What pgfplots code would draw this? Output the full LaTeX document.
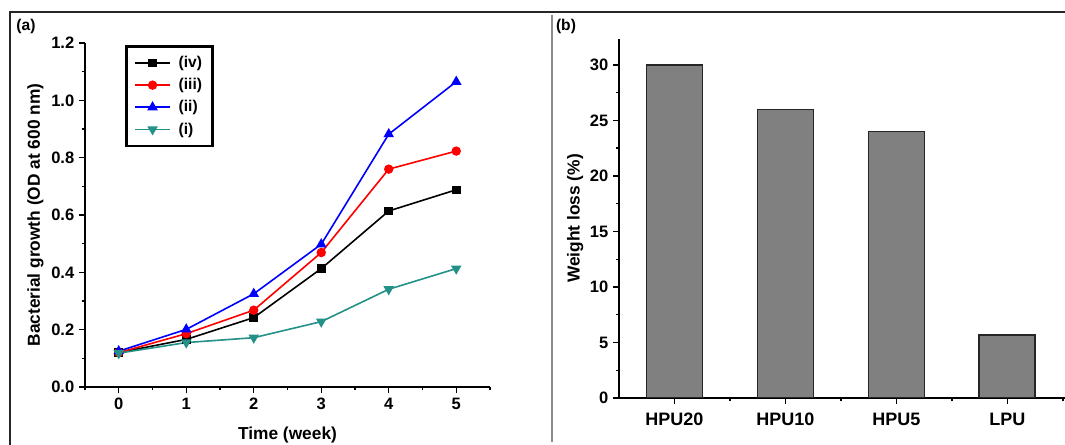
\documentclass[border=0pt]{standalone}
\usepackage{fontspec}
\setmainfont{Liberation Sans}
\usepackage{pgfplots}
\pgfplotsset{compat=1.18}
\definecolor{tealc}{RGB}{35,145,135}
\definecolor{bargray}{RGB}{128,128,128}

\pgfplotsset{
  origin/.style={
    scale only axis,
    axis x line*=bottom, axis y line*=left,
    axis line style={line width=1.1pt},
    tick align=outside,
    major tick length=4.5pt, minor tick length=2.5pt,
    every tick/.style={line width=1.1pt, black},
    /pgf/number format/assume math mode=true,
    tick label style={font=\fontsize{12.4}{14}\selectfont\bfseries},
    label style={font=\fontsize{13}{15}\selectfont\bfseries},
  },
}

\begin{document}
\begin{tikzpicture}
% 1 px of the reference = 0.75pt
\path[use as bounding box] (0,0) rectangle (798.75pt,-333.75pt);
\draw[line width=1.5pt, black!85] (7.5pt,-333.75pt) -- (7.5pt,-9pt) -- (798.75pt,-9pt);
\draw[line width=1.4pt, black!45] (414pt,-11pt) -- (414pt,-331.5pt);

\node[font=\fontsize{11.7}{13}\selectfont\bfseries] at (19.5pt,-19.5pt) {(a)};
\node[font=\fontsize{11.7}{13}\selectfont\bfseries] at (424.5pt,-19.5pt) {(b)};

% (a) bacterial growth
\begin{axis}[origin,
  at={(63.75pt,-290.25pt)}, anchor=south west,
  width=303.75pt, height=258pt,
  xmin=-0.5, xmax=5.5, ymin=0, ymax=1.2,
  xtick={0,1,2,3,4,5}, minor xtick={-0.5,0.5,1.5,2.5,3.5,4.5,5.5},
  ytick={0,0.2,...,1.2}, minor ytick={0.1,0.3,0.5,0.7,0.9,1.1},
  yticklabel style={/pgf/number format/.cd, fixed, fixed zerofill, precision=1},
  xlabel={Time (week)}, ylabel={Bacterial growth (OD at 600 nm)},
  xlabel style={yshift=-6pt}, ylabel style={yshift=-1pt},
  legend style={at={(0.099,0.994)}, anchor=north west, draw=black, line width=2pt,
    font=\fontsize{11.7}{13}\selectfont\bfseries, row sep=2.6pt,
    inner xsep=6pt, inner ysep=5.5pt},
  legend cell align=left,
  legend image code/.code={\draw[mark repeat=2, mark phase=2] plot coordinates {(0pt,0pt) (13pt,0pt) (26pt,0pt)}; \path (30pt,0pt);},
]
\addplot[black, line width=1.2pt, mark=square*, mark size=2.6pt] coordinates
 {(0,0.12) (1,0.166) (2,0.242) (3,0.413) (4,0.614) (5,0.688)};
\addlegendentry{(iv)}
\addplot[red, line width=1.2pt, mark=*, mark size=2.9pt] coordinates
 {(0,0.12) (1,0.186) (2,0.268) (3,0.469) (4,0.760) (5,0.823)};
\addlegendentry{(iii)}
\addplot[blue, line width=1.2pt, mark=triangle*, mark size=3.4pt] coordinates
 {(0,0.125) (1,0.201) (2,0.325) (3,0.498) (4,0.882) (5,1.065)};
\addlegendentry{(ii)}
\addplot[tealc, line width=1.2pt, mark=triangle*, mark size=3.4pt, mark options={rotate=180}] coordinates
 {(0,0.118) (1,0.155) (2,0.172) (3,0.228) (4,0.341) (5,0.413)};
\addlegendentry{(i)}
\end{axis}

% (b) weight loss
\begin{axis}[origin,
  at={(464.25pt,-298.5pt)}, anchor=south west,
  width=334.5pt, height=269.25pt,
  xmin=-0.5, xmax=3.52, ymin=0, ymax=32.34,
  xtick={0,1,2,3}, xticklabels={HPU20,HPU10,HPU5,LPU},
  minor xtick={0.5,1.5,2.5,3.5},
  ytick={0,5,...,30}, minor ytick={2.5,7.5,...,27.5},
  xticklabel style={font=\fontsize{13.5}{15}\selectfont\bfseries, yshift=-3pt},
  ylabel={Weight loss (\%)}, ylabel style={yshift=-2pt},
]
\addplot[ybar, bar width=42pt, fill=bargray, draw=black!85, line width=1.3pt] coordinates
 {(0,30) (1,26) (2,24) (3,5.7)};
\end{axis}
\end{tikzpicture}
\end{document}
